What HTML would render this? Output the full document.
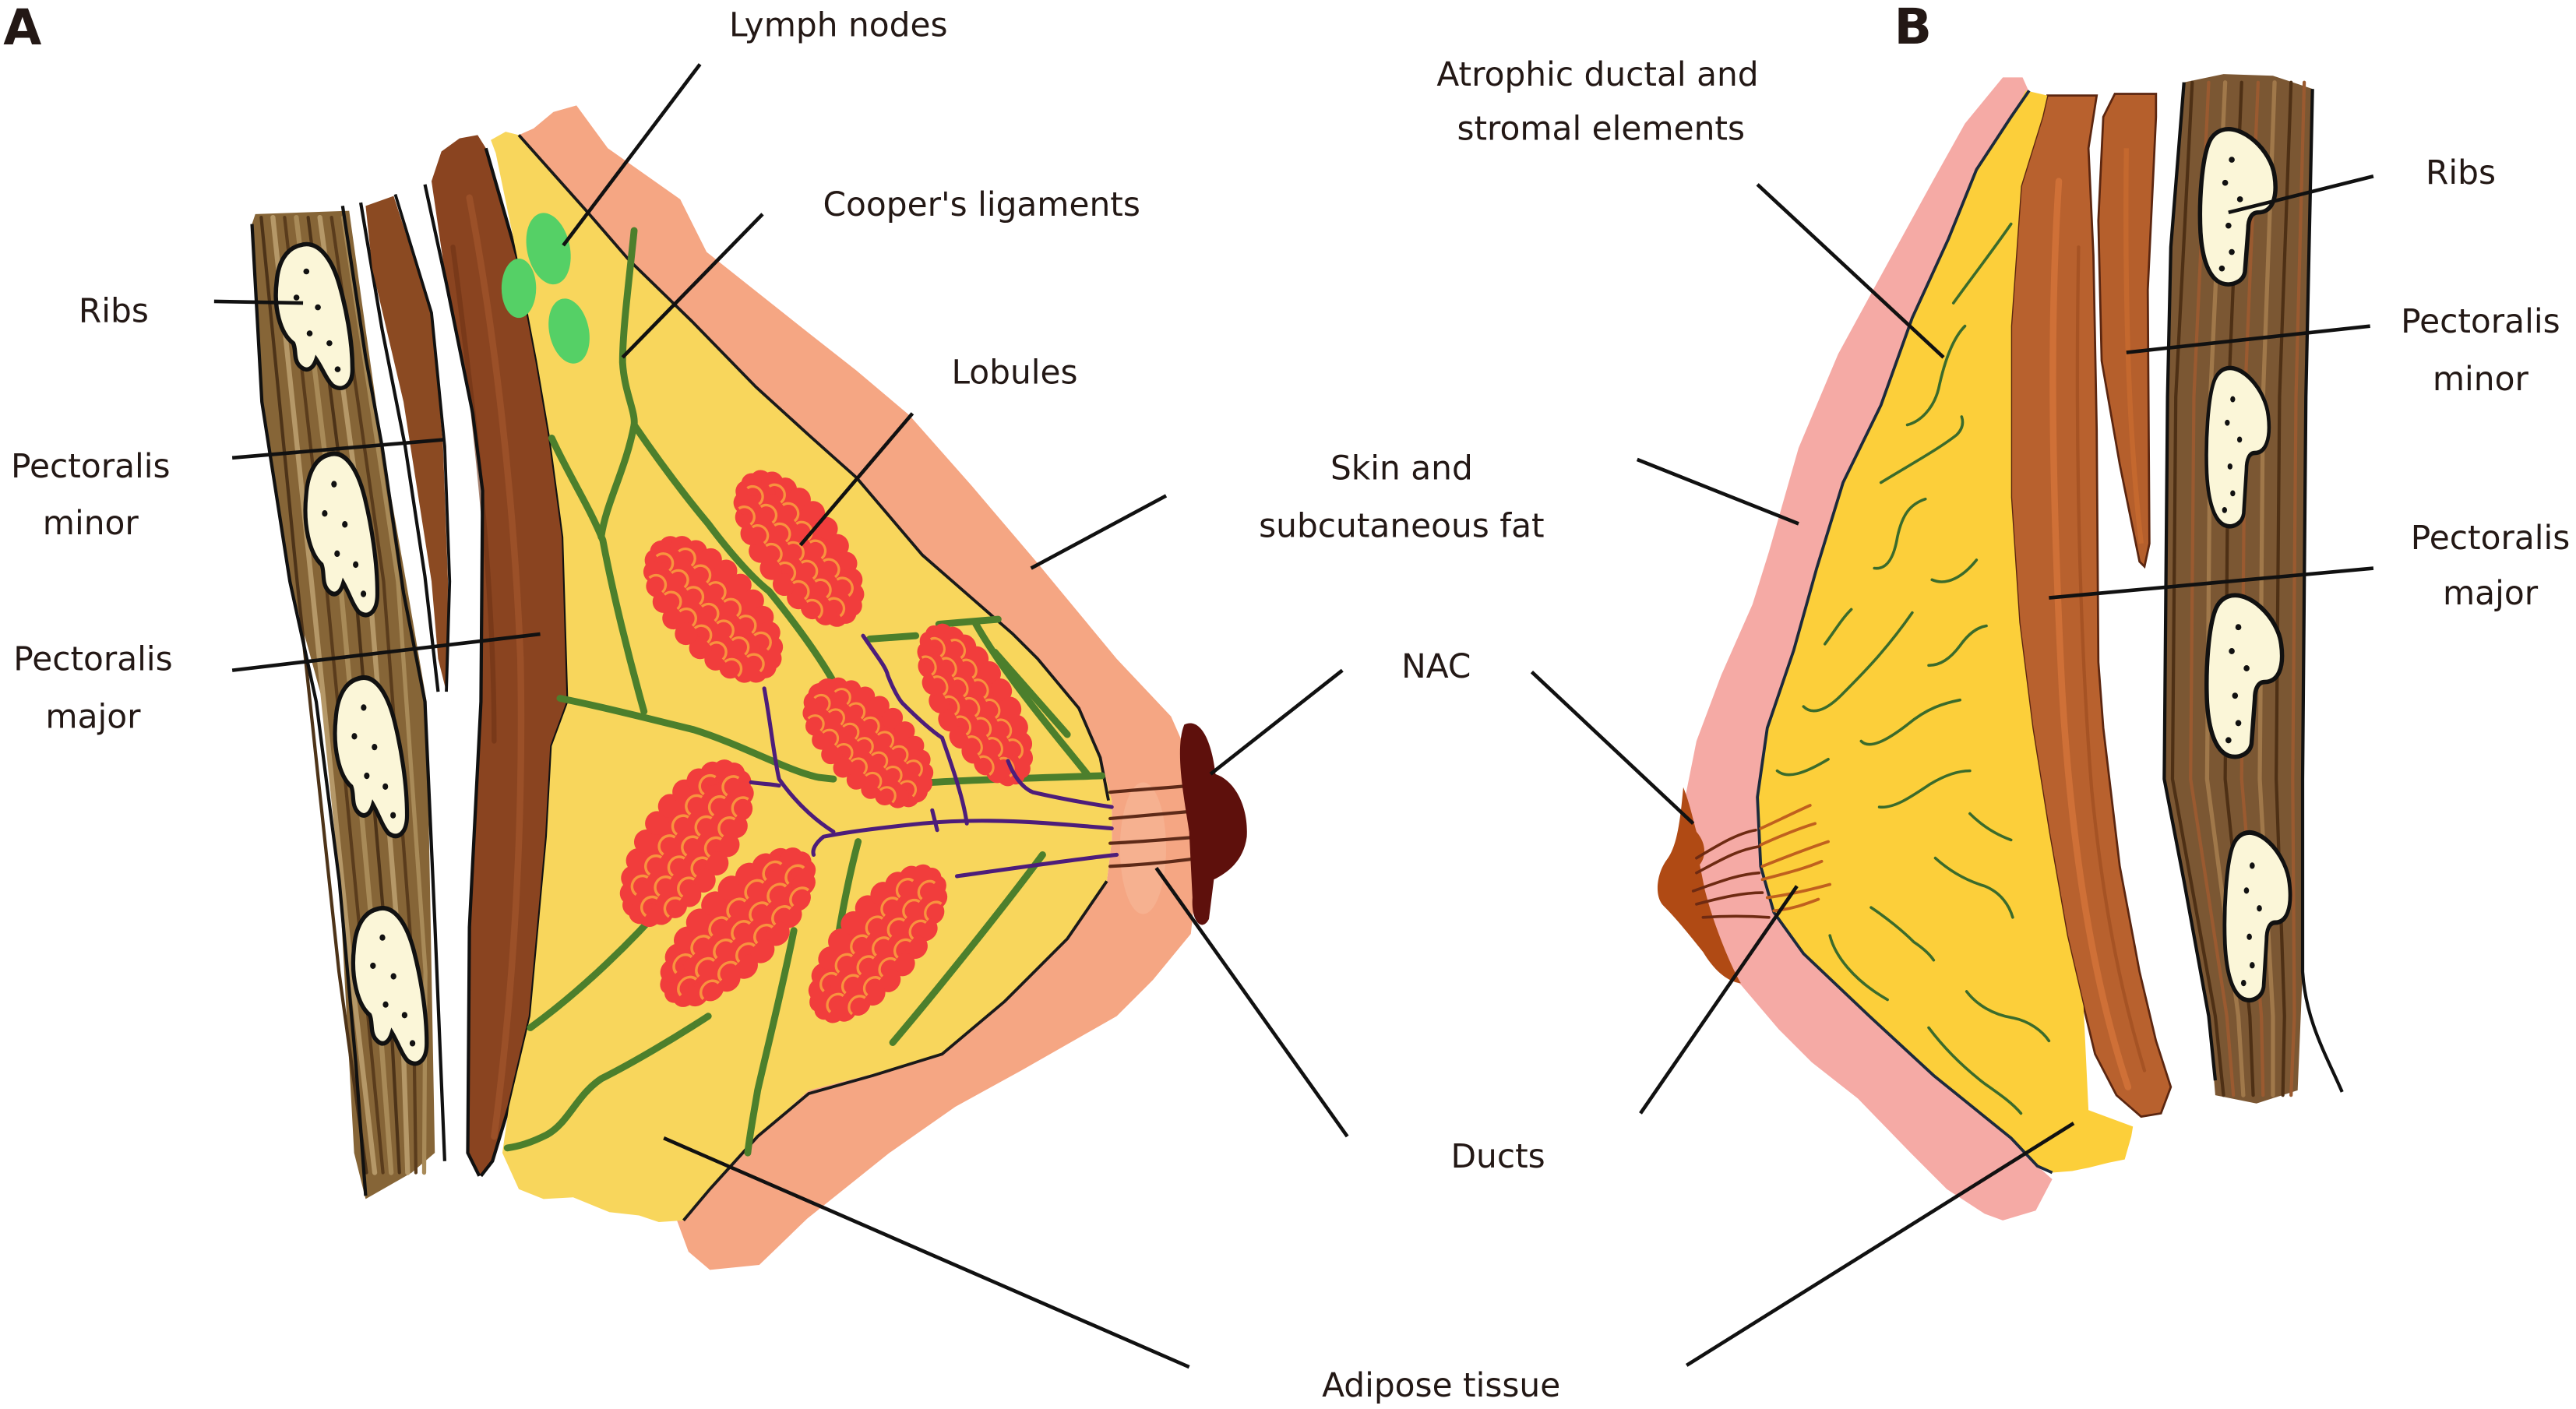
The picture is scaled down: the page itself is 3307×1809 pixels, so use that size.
<!DOCTYPE html>
<html>
<head>
<meta charset="utf-8">
<style>
html,body{margin:0;padding:0;background:#fff;}
body{width:3307px;height:1809px;overflow:hidden;}
svg{display:block;}
text{font-family:"DejaVu Sans","Liberation Sans",sans-serif;font-size:20px;fill:#231815;}
.lb{font-weight:bold;font-size:30px;}
</style>
</head>
<body>
<svg xmlns="http://www.w3.org/2000/svg" xmlns:xlink="http://www.w3.org/1999/xlink" width="3307" height="1809" viewBox="0 0 1564 855.5" preserveAspectRatio="none">
<defs>
  <g id="lob">
    <ellipse cx="0" cy="0" rx="48" ry="22" fill="#f13d3c"/>
    <g fill="#f13d3c">
      <circle cx="48" cy="0" r="7"/><circle cx="46.4" cy="5.7" r="7"/><circle cx="41.6" cy="11" r="7"/><circle cx="33.9" cy="15.6" r="7"/>
      <circle cx="24" cy="19" r="7"/><circle cx="12.4" cy="21.3" r="7"/><circle cx="0" cy="22" r="7"/><circle cx="-12.4" cy="21.3" r="7"/>
      <circle cx="-24" cy="19" r="7"/><circle cx="-33.9" cy="15.6" r="7"/><circle cx="-41.6" cy="11" r="7"/><circle cx="-46.4" cy="5.7" r="7"/>
      <circle cx="-48" cy="0" r="7"/><circle cx="-46.4" cy="-5.7" r="7"/><circle cx="-41.6" cy="-11" r="7"/><circle cx="-33.9" cy="-15.6" r="7"/>
      <circle cx="-24" cy="-19" r="7"/><circle cx="-12.4" cy="-21.3" r="7"/><circle cx="0" cy="-22" r="7"/><circle cx="12.4" cy="-21.3" r="7"/>
      <circle cx="24" cy="-19" r="7"/><circle cx="33.9" cy="-15.6" r="7"/><circle cx="41.6" cy="-11" r="7"/><circle cx="46.4" cy="-5.7" r="7"/>
    </g>
    <path fill="none" stroke="#f8923e" stroke-width="1.6" d="M-41,-8a6,6 0 1 1 12,0M-27,-8a6,6 0 1 1 12,0M-13,-8a6,6 0 1 1 12,0M1,-8a6,6 0 1 1 12,0M15,-8a6,6 0 1 1 12,0M29,-8a6,6 0 1 1 12,0
    M-48,4a6,6 0 1 1 12,0M-34,4a6,6 0 1 1 12,0M-20,4a6,6 0 1 1 12,0M-6,4a6,6 0 1 1 12,0M8,4a6,6 0 1 1 12,0M22,4a6,6 0 1 1 12,0M36,4a6,6 0 1 1 12,0
    M-41,16a6,6 0 1 1 12,0M-27,16a6,6 0 1 1 12,0M-13,16a6,6 0 1 1 12,0M1,16a6,6 0 1 1 12,0M15,16a6,6 0 1 1 12,0M29,16a6,6 0 1 1 12,0"/>
  </g>
  <g id="ribA">
    <path d="M16,2 C28,-2 36,12 40,26 C44,40 48,60 48,78 C48,88 42,92 36,88 C32,84 30,78 26,72 C24,78 20,80 16,76 C12,72 14,66 12,62 C4,56 0,40 2,24 C3,12 8,4 16,2 Z" fill="#fbf6d8" stroke="#111" stroke-width="2.6"/>
    <g fill="#111"><circle cx="20" cy="18" r="1.8"/><circle cx="14" cy="34" r="1.8"/><circle cx="27" cy="40" r="1.8"/><circle cx="22" cy="56" r="1.8"/><circle cx="34" cy="62" r="1.8"/><circle cx="39" cy="78" r="1.8"/></g>
  </g>
  <g id="ribB">
    <path d="M14,2 C26,-2 44,14 46,30 C48,44 44,52 36,52 C32,52 30,56 30,62 L28,88 C27,94 20,97 14,95 C6,92 2,80 1,64 C0,44 2,20 6,10 C8,5 11,3 14,2 Z" fill="#fbf6d8" stroke="#111" stroke-width="2.6"/>
    <g fill="#111"><circle cx="20" cy="20" r="1.8"/><circle cx="16" cy="34" r="1.8"/><circle cx="25" cy="44" r="1.8"/><circle cx="18" cy="60" r="1.8"/><circle cx="20" cy="76" r="1.8"/><circle cx="14" cy="86" r="1.8"/></g>
  </g>
</defs>
<rect x="0" y="0" width="1564" height="856" fill="#fff"/>

<!-- ================= PANEL A ================= -->
<polygon points="155,130 212,128 222,200 232,271 246,350 259,426 262,590 264,700 250,712 222,728 215,700 206,535 196,426 176,353 159,244 153,136" fill="#866537"/>
<g fill="none" stroke-linecap="round">
  <polyline points="158.6,132 180.4,353 205.8,590 222.5,712" stroke="#4d3318" stroke-width="2"/>
  <polyline points="165.7,132 189.1,353 213.3,590 227.5,712" stroke="#b59868" stroke-width="3"/>
  <polyline points="172.8,132 197.9,353 220.8,590 232.5,712" stroke="#5a3c1c" stroke-width="2"/>
  <polyline points="179.9,132 206.6,353 228.3,590 237.5,712" stroke="#a88a58" stroke-width="3"/>
  <polyline points="187.1,132 215.4,353 235.8,590 242.5,712" stroke="#4d3318" stroke-width="2"/>
  <polyline points="194.2,132 224.1,353 243.3,590 247.5,712" stroke="#b59868" stroke-width="3"/>
  <polyline points="201.3,132 232.9,353 250.8,590 252.5,712" stroke="#5a3c1c" stroke-width="2"/>
  <polyline points="208.4,132 241.6,353 258.3,590 257.5,712" stroke="#a88a58" stroke-width="2.5"/>
</g>
<use xlink:href="#ribA" transform="translate(166,147) scale(1,0.99)"/>
<use xlink:href="#ribA" transform="translate(184,274) scale(0.94,1.11)"/>
<use xlink:href="#ribA" transform="translate(202,410) scale(0.94,1.09)"/>
<use xlink:href="#ribA" transform="translate(213,550) scale(0.96,1.07)"/>
<g fill="none" stroke="#111" stroke-width="2">
  <polyline points="153,136 159,244 176,353 192,426 206,535 216,645 222,726"/>
  <polyline points="208,125 222,217 232,271 245,360 258,426 264,560 270,705"/>
  <polyline points="219,123 232,200 246,271 258,350 266,420"/>
</g>
<polygon points="222,125 239,119 262,190 269,271 272,353 271,420 266,400 262,353 245,244 226,163" fill="#8b4a22"/>
<polyline points="240,118 262,190 270,271 273,353 271,420" fill="none" stroke="#111" stroke-width="1.8"/>
<polygon points="268,92 279,84 290,82 295,90 314,156 326,219 334,266 342,326 345,426 335,453 332,508 322,617 309,672 299,705 292,714 284,700 285,563 292,426 293,298 287,251 271,172 262,110" fill="#8a4420"/>
<g fill="none" stroke-linecap="round">
  <path d="M285,120 C300,200 312,300 316,400 C318,500 312,600 300,690" stroke="#a2562c" stroke-width="4" opacity="0.7"/>
  <path d="M275,150 C288,250 300,350 300,450" stroke="#6e3215" stroke-width="3" opacity="0.6"/>
</g>
<g fill="none" stroke="#111" stroke-width="2">
  <polyline points="258,112 271,172 287,251 293,298 292,426 285,563 284,700 291,714"/>
  <polyline points="295,90 314,156 326,219 334,266 342,326 345,426 335,453 332,508 322,617 309,672 299,705 292,714"/>
</g>
<polygon points="324,78 336,68 350,64 369,90 413,121 429,153 492,203 520,225 552,252 590,295 630,342 678,400 711,435 722,460 728,500 726,540 723,567 700,595 678,617 620,650 580,672 540,700 520,716 490,740 461,768 431,771 418,760 411,741 415,741 431,722 460,690 491,662 530,652 572,640 610,608 648,570 672,535 675,510 675,486 668,460 655,430 630,400 615,385 560,337 520,290 492,265 459,235 420,195 382,158 356,128 315,82" fill="#f5a683"/>
<ellipse cx="694" cy="515" rx="14" ry="40" fill="#f8bb9e" opacity="0.5"/>
<polygon points="298,85 307,80 315,82 356,128 382,158 420,195 459,235 492,265 520,290 560,337 615,385 630,400 655,430 668,460 675,486 675,510 672,535 648,570 610,608 572,640 530,652 491,662 460,690 431,722 415,741 400,742 388,738 370,736 348,727 330,728 315,722 305,700 309,672 322,617 332,508 335,453 345,426 342,326 334,266 326,219 314,156 301,93" fill="#f8d65c"/>
<g fill="none" stroke="#1a1a1a" stroke-width="1.8">
  <polyline points="315,82 356,128 382,158 420,195 459,235 492,265 520,290 560,337 615,385 630,400 655,430 668,460 673,486"/>
  <polyline points="672,535 648,570 610,608 572,640 530,653 491,664 460,690 431,722 415,741"/>
</g>
<g fill="none" stroke="#4c7f2c" stroke-width="4.2" stroke-linecap="round" stroke-linejoin="round">
  <path d="M385,140 C382,170 378,200 378,220 C379,238 386,250 385,258 C380,285 368,305 365,326"/>
  <path d="M385,258 C400,280 415,300 430,318 C445,338 458,352 467,359 C480,375 495,395 505,412"/>
  <path d="M335,266 C345,288 358,308 366,328 C372,360 382,400 391,432"/>
  <path d="M340,424 C370,430 400,438 421,443 C450,452 478,468 497,472 L506,473"/>
  <path d="M528,388 L556,386"/>
  <path d="M570,379 L606,376"/>
  <path d="M592,378 C610,410 640,445 660,470"/>
  <path d="M604,396 C618,412 634,430 648,446"/>
  <path d="M566,475 C600,473 640,472 669,471"/>
  <path d="M406,546 C385,570 355,600 322,624"/>
  <path d="M430,617 C410,630 385,645 365,655 C350,665 345,682 332,689 C322,694 315,696 308,697"/>
  <path d="M482,565 C475,600 465,640 460,662 C457,680 455,690 454,700"/>
  <path d="M521,511 C516,530 512,550 509,568"/>
  <path d="M633,519 C610,550 570,600 542,633"/>
</g>
<g fill="#55d066">
  <ellipse cx="333" cy="151" rx="13" ry="22" transform="rotate(-12 333 151)"/>
  <ellipse cx="315" cy="175" rx="10.5" ry="18"/>
  <ellipse cx="345.5" cy="201" rx="12" ry="20" transform="rotate(-12 345.5 201)"/>
</g>
<use xlink:href="#lob" transform="translate(485,333) rotate(54) scale(1.0,0.95)"/>
<use xlink:href="#lob" transform="translate(433,370) rotate(48) scale(0.98,1.0)"/>
<use xlink:href="#lob" transform="translate(592,428) rotate(60) scale(1.0,0.85)"/>
<use xlink:href="#lob" transform="translate(527,451) rotate(45) scale(0.88,0.95)"/>
<use xlink:href="#lob" transform="translate(417,512) rotate(-56) scale(1.05,1.0)"/>
<use xlink:href="#lob" transform="translate(448,563) rotate(-46) scale(1.12,0.95)"/>
<use xlink:href="#lob" transform="translate(533,573) rotate(-51) scale(1.05,0.92)"/>
<g fill="none" stroke="#4d1d7a" stroke-width="2.4" stroke-linecap="round" stroke-linejoin="round">
  <path d="M675,503 C640,500 600,496 560,500 C530,503 510,506 500,508 C495,512 493,516 494,519"/>
  <path d="M675,490 C655,487 640,484 627,481 C620,478 615,470 612,462"/>
  <path d="M678,519 C650,522 610,528 581,532"/>
  <path d="M524,386 C532,398 538,405 539,410 C542,418 546,425 548,427 C558,437 566,444 572,448 C578,465 585,485 587,500"/>
  <path d="M464,418 C468,440 470,460 473,473 C485,490 498,500 506,505"/>
  <path d="M456,475 C462,476 468,476 473,477"/>
  <path d="M566,492 L569,504"/>
</g>
<g fill="none" stroke="#5e2a18" stroke-width="2" stroke-linecap="round">
  <path d="M674,481 C695,479 715,478 733,476"/>
  <path d="M674,497 C695,495 718,493 742,491"/>
  <path d="M674,512 C695,511 718,509 741,507"/>
  <path d="M674,526 C695,525 715,523 735,520"/>
</g>
<path d="M719,440 C727,436 735,445 738,470 C750,474 758,490 757,508 C755,523 745,530 737,534 L734,558 C730,566 723,560 724,545 L722,505 C719,485 713,455 719,440 Z" fill="#5e100c"/>

<!-- ================= PANEL B ================= -->
<polygon points="1326,50 1350,45 1380,46 1404,54 1400,241 1398,473 1398,590 1395,662 1370,670 1345,665 1341,617 1326,535 1314,473 1316,241 1318,150" fill="#7b5733"/>
<g fill="none" stroke-linecap="round">
  <polyline points="1331,50 1321,241 1319,473 1345,617 1350,665" stroke="#4e3015" stroke-width="2"/>
  <polyline points="1341,50 1332,241 1330,473 1352,617 1356,665" stroke="#9a5a30" stroke-width="2"/>
  <polyline points="1351,50 1342,241 1340,473 1359,617 1362,665" stroke="#a0784a" stroke-width="2.5"/>
  <polyline points="1361,50 1353,241 1351,473 1366,617 1368,665" stroke="#4e3015" stroke-width="2"/>
  <polyline points="1371,50 1363,241 1361,473 1373,617 1374,665" stroke="#9a5a30" stroke-width="2"/>
  <polyline points="1381,50 1374,241 1372,473 1380,617 1380,665" stroke="#a0784a" stroke-width="2.5"/>
  <polyline points="1391,50 1384,241 1382,473 1387,617 1386,665" stroke="#4e3015" stroke-width="2"/>
  <polyline points="1399,50 1394,241 1392,473 1393,617 1391,665" stroke="#9a5a30" stroke-width="2"/>
</g>
<use xlink:href="#ribB" transform="translate(1335,77)"/>
<use xlink:href="#ribB" transform="translate(1339,222) scale(0.83,1.02)"/>
<use xlink:href="#ribB" transform="translate(1339,360) scale(1,1.04)"/>
<use xlink:href="#ribB" transform="translate(1350,504) scale(0.87,1.08)"/>
<g fill="none" stroke="#111" stroke-width="2">
  <polyline points="1326,50 1318,150 1316,241 1314,473 1326,535 1341,617 1345,656"/>
  <path d="M1404,54 L1400,241 L1398,473 L1398,590 C1400,620 1412,640 1422,663"/>
</g>
<polygon points="1284,57 1309,57 1309,71 1304,176 1305,330 1302,344 1299,341 1287,282 1276,219 1274,134 1277,71" fill="#b55f2c" stroke="#5b2610" stroke-width="1.3"/>
<path d="M1291,90 C1290,180 1292,260 1300,330" fill="none" stroke="#c86a30" stroke-width="3" opacity="0.8"/>
<polygon points="1243,58 1240,71 1227,113 1221,198 1221,302 1226,378 1234,442 1244,505 1255,568 1265,611 1272,640 1285,665 1300,678 1312,676 1318,660 1309,632 1299,590 1287,526 1277,442 1274,402 1273,261 1271,155 1268,90 1273,58" fill="#b8612e" stroke="#5b2610" stroke-width="1.3"/>
<g fill="none" stroke-linecap="round">
  <path d="M1250,110 C1244,200 1246,300 1252,420 C1258,520 1272,600 1292,660" stroke="#d4743a" stroke-width="4" opacity="0.8"/>
  <path d="M1262,150 C1260,260 1262,380 1270,480 C1278,560 1290,610 1302,650" stroke="#9a4a1e" stroke-width="2" opacity="0.6"/>
</g>
<polygon points="1216,47 1193,75 1174,109 1146,160 1116,215 1092,272 1074,335 1064,367 1045,410 1030,450 1024,480 1010,545 1040,585 1057,598 1080,625 1100,645 1128,667 1160,700 1182,722 1205,737 1216,741 1236,735 1246,716 1237,708 1221,691 1174,653 1135,617 1095,579 1077,554 1069,526 1067,484 1073,442 1089,395 1103,345 1119,293 1142,246 1161,193 1183,145 1200,103 1221,71 1232,56 1228,47" fill="#f5aaa5"/>
<polygon points="1230,55 1221,71 1200,103 1183,145 1161,193 1142,246 1119,293 1103,345 1089,395 1073,442 1067,484 1069,526 1077,554 1095,579 1135,617 1174,653 1221,691 1237,708 1246,712 1258,711 1268,709 1280,706 1290,704 1294,690 1295,684 1268,674 1265,611 1255,568 1244,505 1234,442 1226,378 1221,302 1221,198 1227,113 1240,71 1243,58" fill="#fccf3a"/>
<polyline points="1232,55 1221,71 1200,103 1183,145 1161,193 1142,246 1119,293 1103,345 1089,395 1073,442 1067,484 1069,526 1077,554 1095,579 1135,617 1174,653 1221,691 1237,708 1246,712" fill="none" stroke="#1c2a3c" stroke-width="1.8"/>
<g fill="none" stroke="#3b6b2b" stroke-width="1.7" stroke-linecap="round">
  <path d="M1186,184 C1196,170 1210,152 1221,136"/>
  <path d="M1158,258 C1166,256 1174,248 1177,236 C1180,222 1185,206 1193,198"/>
  <path d="M1142,293 C1160,282 1178,272 1188,264 C1192,260 1192,256 1191,253"/>
  <path d="M1138,345 C1146,346 1150,338 1152,326 C1155,312 1160,306 1169,303"/>
  <path d="M1173,352 C1182,356 1192,350 1200,340"/>
  <path d="M1108,391 C1114,383 1118,376 1124,370"/>
  <path d="M1095,429 C1100,434 1108,432 1118,422 C1130,410 1145,395 1161,372"/>
  <path d="M1171,404 C1178,404 1184,400 1190,392 C1195,385 1200,381 1206,380"/>
  <path d="M1130,450 C1135,455 1145,450 1158,440 C1170,430 1180,427 1190,425"/>
  <path d="M1079,468 C1085,473 1095,470 1110,461"/>
  <path d="M1141,490 C1150,491 1160,484 1172,476 C1182,470 1190,468 1196,468"/>
  <path d="M1196,494 C1202,500 1210,506 1221,510"/>
  <path d="M1175,521 C1185,530 1195,535 1205,538 C1215,542 1220,550 1222,557"/>
  <path d="M1136,551 C1145,557 1155,565 1162,572 C1168,576 1172,580 1174,583"/>
  <path d="M1111,568 C1114,580 1125,595 1146,607"/>
  <path d="M1194,602 C1200,610 1210,616 1222,618 C1232,620 1240,626 1244,632"/>
  <path d="M1171,624 C1180,636 1192,648 1205,658 C1215,665 1222,670 1227,676"/>
</g>
<g fill="none" stroke="#c0601e" stroke-width="1.8" stroke-linecap="round">
  <path d="M1069,503 C1080,498 1090,493 1099,489"/>
  <path d="M1069,513 C1080,508 1092,503 1102,500"/>
  <path d="M1070,526 C1085,520 1098,515 1110,511"/>
  <path d="M1070,534 C1085,530 1097,527 1106,523"/>
  <path d="M1073,545 C1088,543 1100,540 1111,537"/>
  <path d="M1077,553 C1088,552 1096,549 1104,546"/>
</g>
<path d="M1022,478 C1026,488 1028,498 1030,505 C1036,512 1036,520 1032,525 L1035,540 C1040,560 1050,585 1057,597 C1048,596 1040,588 1034,578 C1026,568 1018,558 1010,550 C1004,544 1006,530 1012,522 C1018,514 1020,500 1022,478 Z" fill="#b04a14"/>
<g fill="none" stroke="#6e2a12" stroke-width="1.7" stroke-linecap="round">
  <path d="M1030,521 C1045,512 1055,506 1066,504"/>
  <path d="M1030,530 C1045,522 1055,516 1068,514"/>
  <path d="M1028,541 C1045,535 1055,531 1068,530"/>
  <path d="M1030,549 C1045,545 1058,542 1070,542"/>
  <path d="M1034,557 C1048,556 1060,556 1074,557"/>
</g>

<!-- ================= POINTER LINES ================= -->
<g fill="none" stroke="#111" stroke-width="2.2">
  <line x1="425" y1="39" x2="342" y2="149"/>
  <line x1="463" y1="130" x2="378" y2="217"/>
  <line x1="554" y1="251" x2="486" y2="331"/>
  <line x1="708" y1="301" x2="626" y2="345"/>
  <line x1="815" y1="407" x2="735" y2="470"/>
  <line x1="818" y1="690" x2="702" y2="527"/>
  <line x1="722" y1="830" x2="403" y2="691"/>
  <line x1="130" y1="183" x2="184" y2="184"/>
  <line x1="141" y1="278" x2="269" y2="267"/>
  <line x1="141" y1="407" x2="328" y2="385"/>
  <line x1="1067" y1="112" x2="1180" y2="217"/>
  <line x1="994" y1="279" x2="1092" y2="318"/>
  <line x1="930" y1="408" x2="1028" y2="500"/>
  <line x1="996" y1="676" x2="1091" y2="538"/>
  <line x1="1024" y1="829" x2="1259" y2="682"/>
  <line x1="1441" y1="107" x2="1353" y2="129"/>
  <line x1="1439" y1="198" x2="1291" y2="214"/>
  <line x1="1441" y1="345" x2="1244" y2="363"/>
</g>

<!-- ================= TEXT ================= -->
<text class="lb" x="2" y="27">A</text>
<text class="lb" x="1150" y="26.5">B</text>
<text x="509" y="22" text-anchor="middle">Lymph nodes</text>
<text x="596" y="131" text-anchor="middle">Cooper's ligaments</text>
<text x="616" y="233" text-anchor="middle">Lobules</text>
<text x="69" y="195.5" text-anchor="middle">Ribs</text>
<text x="55" y="290" text-anchor="middle">Pectoralis</text>
<text x="55" y="324.5" text-anchor="middle">minor</text>
<text x="56.5" y="407" text-anchor="middle">Pectoralis</text>
<text x="56.5" y="442" text-anchor="middle">major</text>
<text x="970" y="52" text-anchor="middle">Atrophic ductal and</text>
<text x="972" y="85" text-anchor="middle">stromal elements</text>
<text x="851" y="291" text-anchor="middle">Skin and</text>
<text x="851" y="326" text-anchor="middle">subcutaneous fat</text>
<text x="872" y="411.5" text-anchor="middle">NAC</text>
<text x="909.5" y="709" text-anchor="middle">Ducts</text>
<text x="875" y="848" text-anchor="middle">Adipose tissue</text>
<text x="1494" y="111.5" text-anchor="middle">Ribs</text>
<text x="1506" y="202" text-anchor="middle">Pectoralis</text>
<text x="1506" y="237" text-anchor="middle">minor</text>
<text x="1512" y="333.5" text-anchor="middle">Pectoralis</text>
<text x="1512" y="367" text-anchor="middle">major</text>
</svg>
</body>
</html>
